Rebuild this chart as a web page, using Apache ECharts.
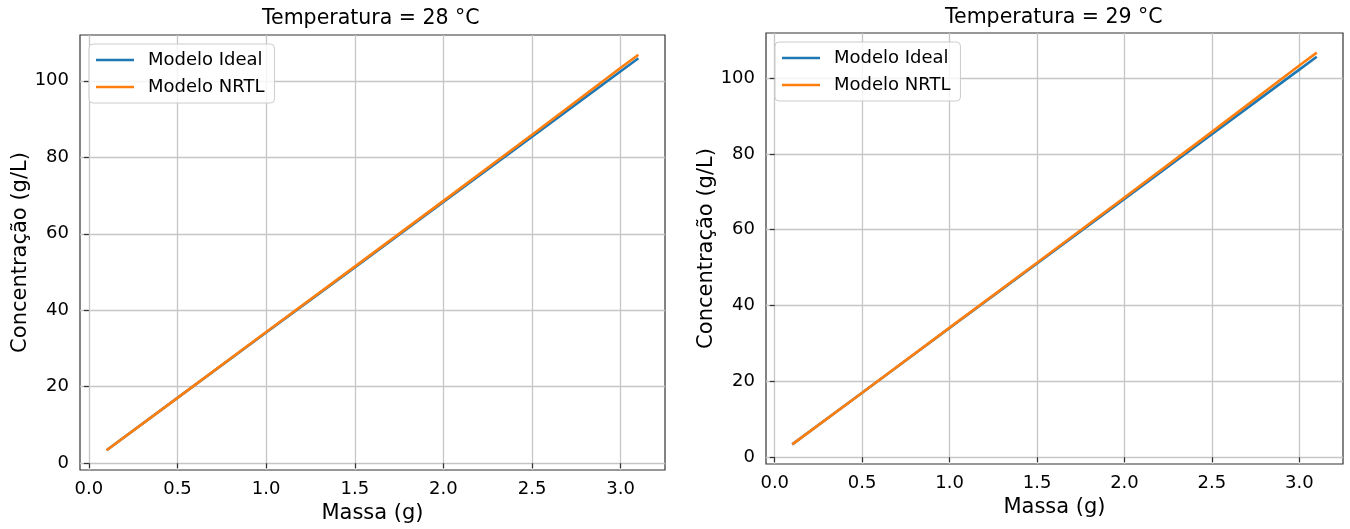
<!DOCTYPE html>
<html>
<head>
<meta charset="utf-8">
<script src="https://cdn.jsdelivr.net/npm/echarts@6/dist/echarts.min.js"></script>
<style>
  html, body { margin: 0; padding: 0; background: #fff; }
  #chart { width: 1350px; height: 529px; }
</style>
</head>
<body>
<div id="chart"></div>
<script>
const massa = [0.1, 0.5, 1.0, 1.5, 2.0, 2.5, 3.0, 3.1]

// 28 °C
const ideal28 = [3.4, 17.1, 34.2, 51.2, 68.3, 85.4, 102.5, 105.9]
const nrtl28 = [3.4, 17.1, 34.3, 51.4, 68.6, 85.9, 103.4, 106.8]

// 29 °C
const ideal29 = [3.4, 17.0, 34.1, 51.1, 68.1, 85.2, 102.2, 105.6]
const nrtl29 = [3.4, 17.0, 34.2, 51.3, 68.5, 85.8, 103.3, 106.7]

const xTicks = [0, 0.5, 1.0, 1.5, 2.0, 2.5, 3.0]
const yTicks = [0, 20, 40, 60, 80, 100]
const titles = ['Temperatura = 28 °C', 'Temperatura = 29 °C']
const seriesNames = ['Modelo Ideal', 'Modelo NRTL']

const FONT = '"DejaVu Sans", sans-serif'
const BLUE = '#1f77b4'
const ORANGE = '#ff7f0e'
const LINE_W = 2.6

// matplotlib-like 5% margins
const padRange = (arrs) => {
  const all = arrs.flat()
  const lo = Math.min(...all)
  const hi = Math.max(...all)
  const m = (hi - lo) * 0.05
  return [lo - m, hi + m]
}

const grids = [
  { left: 80, top: 35, width: 585, height: 435 },
  { left: 766, top: 33, width: 577, height: 431 },
]

const [xMin, xMax] = padRange([massa])
const yRanges = [padRange([ideal28, nrtl28]), padRange([ideal29, nrtl29])]

const gridLine = { show: true, lineStyle: { color: '#c6c6c6', width: 1.3 } }

const makeXAxis = (i) => ({
  type: 'value',
  gridIndex: i,
  min: xMin,
  max: xMax,
  name: 'Massa (g)',
  nameLocation: 'middle',
  nameGap: 33,
  nameTextStyle: { fontFamily: FONT, fontSize: 21, color: '#000' },
  axisLine: { show: false },
  axisTick: { show: true, inside: false, length: 5, customValues: xTicks, lineStyle: { color: '#333', width: 1.2 } },
  axisLabel: {
    customValues: xTicks,
    margin: 10,
    fontFamily: FONT,
    fontSize: 18,
    color: '#000',
    formatter: (v) => v.toFixed(1),
  },
  splitLine: gridLine,
})

const makeYAxis = (i) => ({
  type: 'value',
  gridIndex: i,
  min: yRanges[i][0],
  max: yRanges[i][1],
  name: 'Concentração (g/L)',
  nameLocation: 'middle',
  nameRotate: 90,
  nameGap: 49,
  nameTextStyle: { fontFamily: FONT, fontSize: 21, color: '#000' },
  axisLine: { show: false },
  axisTick: { show: true, inside: false, length: 5, customValues: yTicks, lineStyle: { color: '#333', width: 1.2 } },
  axisLabel: {
    customValues: yTicks,
    margin: 11,
    fontFamily: FONT,
    fontSize: 18,
    color: '#000',
  },
  splitLine: gridLine,
})

const makeLine = (name, color, data, i) => ({
  name,
  type: 'line',
  xAxisIndex: i,
  yAxisIndex: i,
  data: massa.map((m, k) => [m, data[k]]),
  symbol: 'none',
  smooth: false,
  lineStyle: { color, width: LINE_W },
  itemStyle: { color },
  z: color === ORANGE ? 3 : 2,
})

const makeLegend = (left, top) => ({
  orient: 'vertical',
  left,
  top,
  data: seriesNames.map(n => ({ name: n, icon: 'rect' })),
  itemWidth: 38,
  itemHeight: LINE_W,
  itemGap: 9,
  padding: [7, 10, 7, 7],
  backgroundColor: 'rgba(255,255,255,0.8)',
  borderColor: '#cccccc',
  borderWidth: 1,
  borderRadius: 4,
  selectedMode: false,
  textStyle: { fontFamily: FONT, fontSize: 18, color: '#000', padding: [0, 0, 0, 9] },
})

const chart = echarts.init(document.getElementById('chart'), null, { renderer: 'canvas' })

chart.setOption({
  animation: false,
  backgroundColor: '#fff',
  title: [
    { text: titles[0], left: 262, top: 8, padding: 0, textStyle: { fontFamily: FONT, fontSize: 20.5, fontWeight: 'normal', color: '#000' } },
    { text: titles[1], left: 945, top: 7, padding: 0, textStyle: { fontFamily: FONT, fontSize: 20.5, fontWeight: 'normal', color: '#000' } },
  ],
  legend: [makeLegend(89, 44), makeLegend(775, 42)],
  grid: grids.map(g => ({ ...g, show: true, borderColor: '#333', borderWidth: 1.2, backgroundColor: 'transparent' })),
  xAxis: [makeXAxis(0), makeXAxis(1)],
  yAxis: [makeYAxis(0), makeYAxis(1)],
  series: [
    makeLine(seriesNames[0], BLUE, ideal28, 0),
    makeLine(seriesNames[1], ORANGE, nrtl28, 0),
    makeLine(seriesNames[0], BLUE, ideal29, 1),
    makeLine(seriesNames[1], ORANGE, nrtl29, 1),
  ],
})
</script>
</body>
</html>
